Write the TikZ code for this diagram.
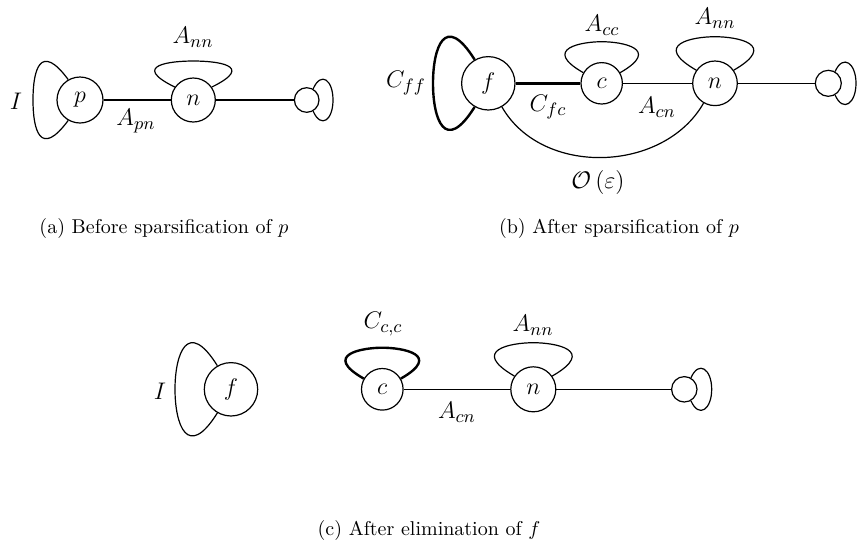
\documentclass[tikz,border=0pt]{standalone}
\usetikzlibrary{calc}
\begin{document}
\begin{tikzpicture}[x=0.5pt,y=-0.5pt,
  vtx/.style={circle,draw,inner sep=0pt,line width=0.6pt,font=\fontsize{13}{15}\selectfont},
  lab/.style={inner sep=0pt,font=\fontsize{13}{15}\selectfont},
  captxt/.style={inner sep=0pt,font=\fontsize{10}{12}\selectfont},
  thinln/.style={line width=0.6pt},
  heavyln/.style={line width=1.2pt}]
\useasboundingbox (0,0) rectangle (858,548);
% ---------- (a)
\node[vtx,minimum size=23pt] (ap) at (80,100) {$p$};
\node[vtx,minimum size=22pt] (an) at (193.3,100) {$n$};
\node[vtx,minimum size=12.3pt] (as) at (306.7,100) {};
\coordinate (apL) at (33,100);
\coordinate (anT) at (193.3,61);
\coordinate (asR) at (333,100);
\draw[thinln] (ap) -- (an);
\draw[thinln] (an) -- (as);
\draw[thinln] (ap.120) .. controls +(-28,-38) and +(0,-30) .. (apL) .. controls +(0,30) and +(-28,38) .. (ap.240);
\draw[thinln] (an.145) .. controls +(-45,-22) and +(-22,0) .. (anT) .. controls +(22,0) and +(45,-22) .. (an.35);
\draw[thinln] (as.60) .. controls +(8,-18) and +(0,-20) .. (asR) .. controls +(0,20) and +(8,18) .. (as.-60);
\node[lab] (aI) at (16,101) {$I$};
\node[lab] (aAnn) at (193,37) {$A_{nn}$};
\node[lab] (aApn) at (136,121) {$A_{pn}$};
\node[captxt] (acap) at (164,228) {(a) Before sparsification of $p$};
% ---------- (b)
\node[vtx,minimum size=26.7pt] (bf) at (488.3,83.3) {$f$};
\node[vtx,minimum size=20.7pt] (bc) at (601.7,83.3) {$c$};
\node[vtx,minimum size=22.3pt] (bn) at (715,83.3) {$n$};
\node[vtx,minimum size=13pt] (bs) at (828.3,83.3) {};
\coordinate (bfL) at (433,83.3);
\coordinate (bcT) at (601.7,41.7);
\coordinate (bnT) at (715,36.7);
\coordinate (bsR) at (856,83.3);
\draw[heavyln] (bf) -- (bc);
\draw[thinln] (bc) -- (bn);
\draw[thinln] (bn) -- (bs);
\draw[heavyln] (bf.120) .. controls +(-30,-48) and +(0,-35) .. (bfL) .. controls +(0,35) and +(-30,48) .. (bf.240);
\draw[thinln] (bc.150) .. controls +(-42,-24) and +(-20,0) .. (bcT) .. controls +(20,0) and +(42,-24) .. (bc.30);
\draw[thinln] (bn.145) .. controls +(-45,-26) and +(-22,0) .. (bnT) .. controls +(22,0) and +(45,-26) .. (bn.35);
\draw[thinln] (bs.60) .. controls +(8,-18) and +(0,-20) .. (bsR) .. controls +(0,20) and +(8,18) .. (bs.-60);
\draw[thinln] (bf.-60) .. controls +(40,70) and +(-40,70) .. (bn.240);
\node[lab] (bCff) at (406,83) {$C_{ff}$};
\node[lab] (bAcc) at (602,25) {$A_{cc}$};
\node[lab] (bAnn) at (715,18) {$A_{nn}$};
\node[lab] (bCfc) at (548,107) {$C_{fc}$};
\node[lab] (bAcn) at (657,107) {$A_{cn}$};
\node[lab] (bO) at (598,182) {$\mathcal{O}\left(\varepsilon\right)$};
\node[captxt] (bcap) at (619,228) {(b) After sparsification of $p$};
% ---------- (c)
\node[vtx,minimum size=26.7pt] (cf) at (231,389.3) {$f$};
\node[vtx,minimum size=20.8pt] (cc) at (382.3,389.3) {$c$};
\node[vtx,minimum size=22.5pt] (cn) at (533.3,389.3) {$n$};
\node[vtx,minimum size=12.7pt] (cs) at (684.3,389.3) {};
\coordinate (cfL) at (175,389.3);
\coordinate (ccT) at (382.3,347.7);
\coordinate (cnT) at (533.3,342.7);
\coordinate (csR) at (711.7,389.3);
\draw[thinln] (cc) -- (cn);
\draw[thinln] (cn) -- (cs);
\draw[thinln] (cf.120) .. controls +(-30,-48) and +(0,-35) .. (cfL) .. controls +(0,35) and +(-30,48) .. (cf.240);
\draw[heavyln] (cc.150) .. controls +(-42,-24) and +(-20,0) .. (ccT) .. controls +(20,0) and +(42,-24) .. (cc.30);
\draw[thinln] (cn.145) .. controls +(-45,-26) and +(-22,0) .. (cnT) .. controls +(22,0) and +(45,-26) .. (cn.35);
\draw[thinln] (cs.60) .. controls +(8,-18) and +(0,-20) .. (csR) .. controls +(0,20) and +(8,18) .. (cs.-60);
\node[lab] (cI) at (160,391) {$I$};
\node[lab] (cCcc) at (383,324) {$C_{c,c}$};
\node[lab] (cAnn) at (533,325) {$A_{nn}$};
\node[lab] (cAcn) at (457,412) {$A_{cn}$};
\node[captxt] (ccap) at (429,530) {(c) After elimination of $f$};
\end{tikzpicture}
\end{document}
